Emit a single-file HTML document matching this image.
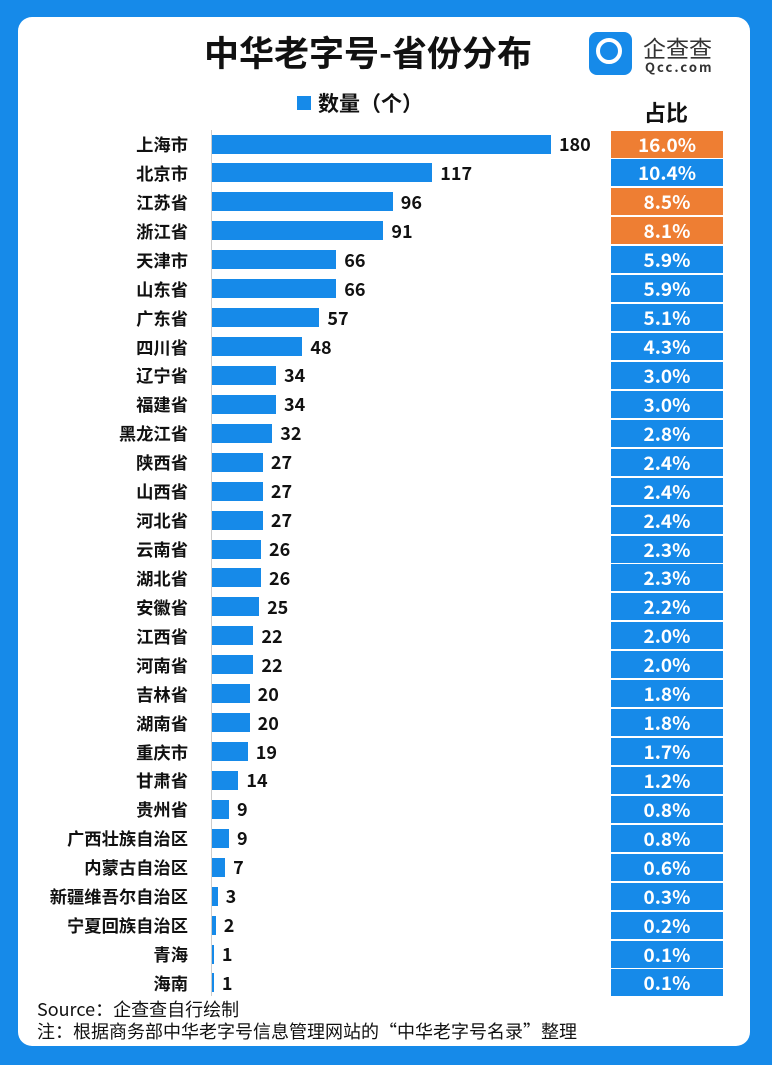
<!DOCTYPE html>
<html><head><meta charset="utf-8"><style>
body{margin:0;width:772px;height:1065px;background:#168ae9;font-family:"Noto Sans CJK SC","Liberation Sans",sans-serif;position:relative;overflow:hidden}
.card{position:absolute;left:18px;top:17px;width:732px;height:1029px;background:#fff;border-radius:14px}
.a{position:absolute;white-space:nowrap}
.lbl{position:absolute;right:584px;font-size:17.3px;font-weight:bold;color:#111;line-height:20px}
.bar{position:absolute;left:212px;height:19px;background:#168ae9}
.val{position:absolute;font-size:18px;font-weight:bold;color:#111;line-height:20px}
.pc{position:absolute;left:611px;width:112px;height:27px;color:#fff;font-weight:bold;font-size:19px;text-align:center;line-height:27px}
</style></head><body>
<div class="card"></div>
<div class="a" style="left:204px;top:28px;font-size:35px;line-height:48px;font-weight:bold;color:#111">中华老字号-省份分布</div>
<div class="a" style="left:589px;top:32px;width:43px;height:43px;background:#168ae9;border-radius:8px"></div>
<div class="a" style="left:596px;top:38px;width:26px;height:26px;border:4px solid #fff;border-radius:50%;box-sizing:border-box;"></div>
<div class="a" style="left:643px;top:30px;font-size:23px;line-height:34px;color:#333">企查查</div>
<div class="a" style="left:645px;top:58px;font-size:13px;line-height:18px;color:#333;letter-spacing:2px;font-weight:bold">Qcc.com</div>
<div class="a" style="left:297px;top:96px;width:14px;height:14px;background:#168ae9"></div>
<div class="a" style="left:318px;top:88px;font-size:21px;line-height:30px;font-weight:bold;color:#111">数量（个）</div>
<div class="a" style="left:644px;top:96px;font-size:22px;line-height:32px;font-weight:bold;color:#111">占比</div>
<div class="a" style="left:211px;top:130px;width:1px;height:866px;background:#ccc"></div>
<div id="rows"></div>
<div class="a" style="left:37px;top:997px;font-size:18px;line-height:24px;color:#111">Source：企查查自行绘制</div>
<div class="a" style="left:37px;top:1019px;font-size:18px;line-height:24px;color:#111">注：根据商务部中华老字号信息管理网站的“中华老字号名录”整理</div>
<script>
var d=[["上海市",180,"16.0%",1],["北京市",117,"10.4%"],["江苏省",96,"8.5%",1],["浙江省",91,"8.1%",1],["天津市",66,"5.9%"],["山东省",66,"5.9%"],["广东省",57,"5.1%"],["四川省",48,"4.3%"],["辽宁省",34,"3.0%"],["福建省",34,"3.0%"],["黑龙江省",32,"2.8%"],["陕西省",27,"2.4%"],["山西省",27,"2.4%"],["河北省",27,"2.4%"],["云南省",26,"2.3%"],["湖北省",26,"2.3%"],["安徽省",25,"2.2%"],["江西省",22,"2.0%"],["河南省",22,"2.0%"],["吉林省",20,"1.8%"],["湖南省",20,"1.8%"],["重庆市",19,"1.7%"],["甘肃省",14,"1.2%"],["贵州省",9,"0.8%"],["广西壮族自治区",9,"0.8%"],["内蒙古自治区",7,"0.6%"],["新疆维吾尔自治区",3,"0.3%"],["宁夏回族自治区",2,"0.2%"],["青海",1,"0.1%"],["海南",1,"0.1%"]];
var h="";
d.forEach(function(r,i){var c=144+i*28.93;var w=Math.max(1.5,r[1]*1.883);
h+='<div class="lbl" style="top:'+(c-10)+'px">'+r[0]+'</div>';
h+='<div class="bar" style="top:'+(c-9.5)+'px;width:'+w+'px"></div>';
h+='<div class="val" style="left:'+(212+w+8)+'px;top:'+(c-10)+'px">'+r[1]+'</div>';
h+='<div class="pc" style="top:'+(c-13.5)+'px;background:'+(r[3]?'#ee7e33':'#168ae9')+'">'+r[2]+'</div>';});
document.getElementById("rows").innerHTML=h;
</script>
</body></html>
